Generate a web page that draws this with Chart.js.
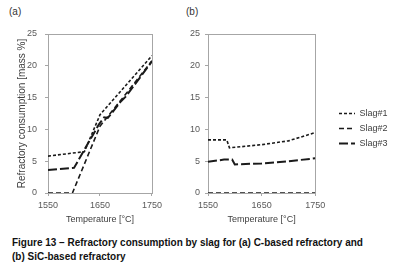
<!DOCTYPE html>
<html>
<head>
<meta charset="utf-8">
<script src="https://cdn.jsdelivr.net/npm/chart.js@4"></script>
<style>
  body { margin: 0; background: #fff; width: 393px; height: 269px; overflow: hidden; position: relative;
         font-family: "Liberation Sans", Arial, sans-serif; }
  canvas { position: absolute; top: 0; }
  #chartA { left: 0; }
  #chartB { left: 166px; }
  .panel-label { position: absolute; top: 6px; font-size: 10px; line-height: 12px; color: #333; }
  #caption { position: absolute; left: 12px; top: 235px; font-weight: bold; font-size: 10.5px; line-height: 14px;
             white-space: nowrap; transform: scaleX(0.95); transform-origin: left top; color: #111; }
</style>
</head>
<body>
<div class="panel-label" style="left:9px">(a)</div>
<div class="panel-label" style="left:186px">(b)</div>
<canvas id="chartA" width="166" height="230"></canvas>
<canvas id="chartB" width="227" height="230"></canvas>
<div id="caption">Figure 13 – Refractory consumption by slag for (a) C-based refractory and<br>(b) SiC-based refractory</div>
<script>
// Series names
const seriesNames = ['Slag#1', 'Slag#2', 'Slag#3'];

// (a) C-based refractory: temperature points and consumption [mass %]
const tempsA1 = [1550, 1620, 1650, 1750];
const slagA1 = [5.8, 6.5, 12.3, 21.6];
const tempsA2 = [1550, 1597, 1650, 1700, 1750];
const slagA2 = [0, 0, 10.5, 15.6, 20.8];
const tempsA3 = [1550, 1600, 1648, 1658, 1665, 1676, 1690, 1700, 1750];
const slagA3 = [3.6, 3.95, 10.8, 11.9, 11.8, 12.9, 14.4, 15.2, 20.7];

// (b) SiC-based refractory
const tempsB1 = [1550, 1585, 1590, 1650, 1700, 1750];
const slagB1 = [8.35, 8.35, 7.1, 7.6, 8.2, 9.5];
const tempsB2 = [1550, 1750];
const slagB2 = [0, 0];
const tempsB3 = [1550, 1580, 1595, 1600, 1650, 1700, 1750];
const slagB3 = [4.9, 5.25, 5.25, 4.5, 4.65, 5.0, 5.45];

// Axis ticks
const xTicks = [1550, 1650, 1750];
const yTicks = [0, 5, 10, 15, 20, 25];

const axisGray = '#a6a6a6';
const textGray = '#595959';
const font9 = { family: '"Liberation Sans", Arial, sans-serif', size: 9 };

// line styles for the three slags
const lineStyles = [
    { borderDash: [3, 2], borderWidth: 1.6 },
    { borderDash: [5, 3], borderWidth: 1.6 },
    { borderDash: [9, 3], borderWidth: 2 }
];

function makeDatasets(temps, values) {
    return temps.map((t, i) => ({
        label: seriesNames[i],
        data: t.map((x, j) => ({ x: x, y: values[i][j] })),
        borderColor: '#1a1a1a',
        backgroundColor: '#1a1a1a',
        borderDash: lineStyles[i].borderDash,
        borderWidth: lineStyles[i].borderWidth,
        pointRadius: 0,
        tension: 0,
        fill: false
    }));
}

// box around the plot area
const plotFrame = {
    id: 'plotFrame',
    beforeDatasetsDraw(chart) {
        const { ctx, chartArea: a } = chart;
        ctx.save();
        ctx.strokeStyle = axisGray;
        ctx.lineWidth = 1;
        ctx.strokeRect(Math.round(a.left) + 0.5, Math.round(a.top) + 0.5,
            Math.round(a.right - a.left), Math.round(a.bottom - a.top));
        ctx.restore();
    }
};

// move the legend away from the plot to where it sits in the figure
const legendShift = {
    id: 'legendShift',
    afterLayout(chart) {
        const lg = chart.legend;
        if (!lg || !lg.options.display) return;
        const dx = 167 - lg.left; // items start at 339px on the page
        lg.left += dx; lg.right += dx + 20;
        lg.top -= 3.5; lg.bottom -= 3.5;
    }
};

function makeOptions(showTitle, yWidth, showLegend) {
    return {
        responsive: false,
        animation: false,
        devicePixelRatio: 1,
        layout: { padding: { top: 34, right: showLegend ? 28 : 12, left: 0, bottom: 0 } },
        plugins: {
            legend: {
                display: showLegend,
                position: 'right',
                align: 'center',
                labels: {
                    usePointStyle: true,
                    pointStyle: 'line',
                    pointStyleWidth: 16,
                    padding: 6,
                    color: '#404040',
                    font: font9,
                    generateLabels: chart => chart.data.datasets.map((ds, i) => ({
                        text: ds.label,
                        datasetIndex: i,
                        hidden: false,
                        strokeStyle: ds.borderColor,
                        fillStyle: 'transparent',
                        lineWidth: ds.borderWidth,
                        lineDash: ds.borderDash,
                        pointStyle: 'line',
                        fontColor: '#404040'
                    }))
                }
            },
            tooltip: { enabled: false }
        },
        scales: {
            x: {
                type: 'linear',
                min: 1550,
                max: 1750,
                afterBuildTicks: s => { s.ticks = xTicks.map(v => ({ value: v })); },
                afterFit: s => { s.height = 37; },
                grid: { drawOnChartArea: false, drawTicks: true, tickLength: 3, color: axisGray },
                border: { color: axisGray },
                ticks: { color: textGray, font: font9, padding: 4, maxRotation: 0, callback: v => String(v) },
                title: { display: true, text: 'Temperature [°C]', color: '#404040', font: font9,
                         padding: { top: 0, bottom: 5 } }
            },
            y: {
                min: 0,
                max: 25,
                afterBuildTicks: s => { s.ticks = yTicks.map(v => ({ value: v })); },
                afterFit: s => { s.width = yWidth; },
                grid: { drawOnChartArea: false, drawTicks: true, tickLength: 3, color: axisGray },
                border: { color: axisGray },
                ticks: { color: textGray, font: font9, padding: showTitle ? 8 : 5 },
                title: { display: showTitle, text: 'Refractory consumption [mass %]', color: '#404040',
                         font: { family: '"Liberation Sans", Arial, sans-serif', size: 10 },
                         padding: { top: 16, bottom: 0 } }
            }
        }
    };
}

new Chart(document.getElementById('chartA'), {
    type: 'line',
    data: { datasets: makeDatasets([tempsA1, tempsA2, tempsA3], [slagA1, slagA2, slagA3]) },
    options: makeOptions(true, 48, false),
    plugins: [plotFrame]
});

new Chart(document.getElementById('chartB'), {
    type: 'line',
    data: { datasets: makeDatasets([tempsB1, tempsB2, tempsB3], [slagB1, slagB2, slagB3]) },
    options: makeOptions(false, 42, true),
    plugins: [plotFrame, legendShift]
});
</script>
</body>
</html>
